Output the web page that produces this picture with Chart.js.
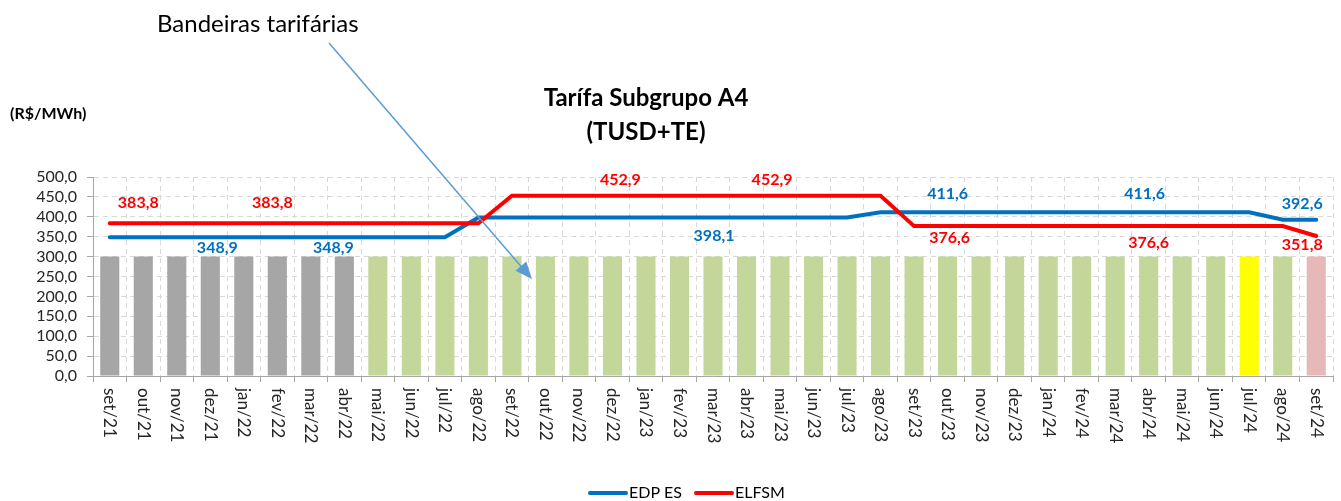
<!DOCTYPE html>
<html lang="pt-BR">
<head>
<meta charset="utf-8">
<title>Tarífa Subgrupo A4 (TUSD+TE)</title>
<script src="https://cdn.jsdelivr.net/npm/chart.js@4.4.1/dist/chart.umd.min.js"></script>
<style>
  html, body { margin: 0; padding: 0; background: #ffffff; }
  #wrap { position: relative; width: 1341px; height: 501px; }
</style>
</head>
<body>
<div id="wrap"><canvas id="chart"></canvas></div>
<script>
// Meses (set/21 a set/24)
const meses = [
  'set/21', 'out/21', 'nov/21', 'dez/21', 'jan/22', 'fev/22', 'mar/22', 'abr/22',
  'mai/22', 'jun/22', 'jul/22', 'ago/22', 'set/22', 'out/22', 'nov/22', 'dez/22',
  'jan/23', 'fev/23', 'mar/23', 'abr/23', 'mai/23', 'jun/23', 'jul/23', 'ago/23',
  'set/23', 'out/23', 'nov/23', 'dez/23', 'jan/24', 'fev/24', 'mar/24', 'abr/24',
  'mai/24', 'jun/24', 'jul/24', 'ago/24', 'set/24'
];

// Tarifa A4 (TUSD+TE) em R$/MWh
const edpEs = [
  348.9, 348.9, 348.9, 348.9, 348.9, 348.9, 348.9, 348.9,
  348.9, 348.9, 348.9, 398.1, 398.1, 398.1, 398.1, 398.1,
  398.1, 398.1, 398.1, 398.1, 398.1, 398.1, 398.1, 411.6,
  411.6, 411.6, 411.6, 411.6, 411.6, 411.6, 411.6, 411.6,
  411.6, 411.6, 411.6, 392.6, 392.6
];
const elfsm = [
  383.8, 383.8, 383.8, 383.8, 383.8, 383.8, 383.8, 383.8,
  383.8, 383.8, 383.8, 383.8, 452.9, 452.9, 452.9, 452.9,
  452.9, 452.9, 452.9, 452.9, 452.9, 452.9, 452.9, 452.9,
  376.6, 376.6, 376.6, 376.6, 376.6, 376.6, 376.6, 376.6,
  376.6, 376.6, 376.6, 376.6, 351.8
];

// Bandeira tarifária vigente em cada mês (barras de fundo)
const bandeiras = [
  'escassez', 'escassez', 'escassez', 'escassez', 'escassez', 'escassez', 'escassez', 'escassez',
  'verde', 'verde', 'verde', 'verde', 'verde', 'verde', 'verde', 'verde',
  'verde', 'verde', 'verde', 'verde', 'verde', 'verde', 'verde', 'verde',
  'verde', 'verde', 'verde', 'verde', 'verde', 'verde', 'verde', 'verde',
  'verde', 'verde', 'amarela', 'verde', 'vermelha2'
];
const barras = [
  300, 300, 300, 300, 300, 300, 300, 300, 300, 300, 300, 300, 300,
  300, 300, 300, 300, 300, 300, 300, 300, 300, 300, 300, 300,
  300, 300, 300, 300, 300, 300, 300, 300, 300, 300, 300, 300
];

const corBandeira = {
  escassez: '#a6a6a6',
  verde: '#c4d79b',
  amarela: '#ffff00',
  vermelha2: '#e6b8b7'
};

const AZUL = '#0070c0';
const VERMELHO = '#ff0000';
const FONTE = 'Lato, "Noto Sans", sans-serif';

// rótulos de valor: série, índice do mês e deslocamento em px
const rotulos = [
  { serie: 0, i: 1,  dx: -5,  dy: -20 },
  { serie: 0, i: 5,  dx: -5,  dy: -20 },
  { serie: 0, i: 15, dx: 8,   dy: -16 },
  { serie: 0, i: 20, dx: -8,  dy: -16 },
  { serie: 0, i: 25, dx: 2,   dy: 12 },
  { serie: 0, i: 31, dx: 0,   dy: 17 },
  { serie: 0, i: 36, dx: -14, dy: 9 },
  { serie: 1, i: 3,  dx: 7,   dy: 11 },
  { serie: 1, i: 7,  dx: -11, dy: 11 },
  { serie: 1, i: 18, dx: 1,   dy: 18 },
  { serie: 1, i: 25, dx: 0,   dy: -18 },
  { serie: 1, i: 31, dx: -4,  dy: -18 },
  { serie: 1, i: 36, dx: -14, dy: -16 }
];

const fmt = v => v.toFixed(1).replace('.', ',');

const extras = {
  id: 'extras',
  afterDatasetsDraw(chart) {
    const { ctx } = chart;
    ctx.save();
    ctx.font = 'bold 16px ' + FONTE;
    ctx.textAlign = 'center';
    ctx.textBaseline = 'middle';
    rotulos.forEach(r => {
      const ds = chart.data.datasets[r.serie];
      const pt = chart.getDatasetMeta(r.serie).data[r.i];
      ctx.fillStyle = ds.borderColor;
      ctx.fillText(fmt(ds.data[r.i]), pt.x + r.dx, pt.y + r.dy);
    });
    ctx.restore();
  },
  afterDraw(chart) {
    const { ctx, chartArea, scales: { x } } = chart;
    ctx.save();

    // meses na vertical, lidos de cima para baixo
    ctx.font = '17px ' + FONTE;
    ctx.fillStyle = '#262626';
    ctx.textAlign = 'left';
    ctx.textBaseline = 'middle';
    meses.forEach((m, i) => {
      ctx.save();
      ctx.translate(x.getPixelForValue(i), chartArea.bottom + 12);
      ctx.rotate(Math.PI / 2);
      ctx.fillText(m, 0, 0);
      ctx.restore();
    });

    // título
    ctx.fillStyle = '#000000';
    ctx.textAlign = 'center';
    ctx.font = 'bold 24px ' + FONTE;
    ctx.fillText('Tarífa Subgrupo A4', 646, 98);
    ctx.fillText('(TUSD+TE)', 646, 132);

    // unidade
    ctx.textAlign = 'left';
    ctx.font = 'bold 16px ' + FONTE;
    ctx.fillText('(R$/MWh)', 10, 114);

    // nota com seta
    ctx.font = '24px ' + FONTE;
    ctx.fillText('Bandeiras tarifárias', 157, 24);
    const x0 = 329, y0 = 43, x1 = 532, y1 = 279;
    const ang = Math.atan2(y1 - y0, x1 - x0);
    ctx.strokeStyle = '#5b9bd5';
    ctx.fillStyle = '#5b9bd5';
    ctx.lineWidth = 1.5;
    ctx.beginPath();
    ctx.moveTo(x0, y0);
    ctx.lineTo(x1 - 12 * Math.cos(ang), y1 - 12 * Math.sin(ang));
    ctx.stroke();
    ctx.beginPath();
    ctx.moveTo(x1, y1);
    ctx.lineTo(x1 - 17 * Math.cos(ang) + 7 * Math.sin(ang), y1 - 17 * Math.sin(ang) - 7 * Math.cos(ang));
    ctx.lineTo(x1 - 17 * Math.cos(ang) - 7 * Math.sin(ang), y1 - 17 * Math.sin(ang) + 7 * Math.cos(ang));
    ctx.closePath();
    ctx.fill();

    // legenda
    const itens = [
      { nome: 'EDP ES', cor: AZUL, x: 590 },
      { nome: 'ELFSM', cor: VERMELHO, x: 696 }
    ];
    ctx.font = '16px ' + FONTE;
    ctx.textBaseline = 'middle';
    ctx.lineWidth = 4;
    ctx.lineCap = 'round';
    itens.forEach(it => {
      ctx.strokeStyle = it.cor;
      ctx.beginPath();
      ctx.moveTo(it.x, 493);
      ctx.lineTo(it.x + 36, 493);
      ctx.stroke();
      ctx.fillStyle = '#000000';
      ctx.fillText(it.nome, it.x + 39, 493);
    });

    ctx.restore();
  }
};

const ctx = document.getElementById('chart');

new Chart(ctx, {
  type: 'bar',
  data: {
    labels: meses,
    datasets: [
      {
        type: 'line',
        label: 'ELFSM',
        data: elfsm,
        borderColor: VERMELHO,
        backgroundColor: VERMELHO,
        borderWidth: 4,
        borderCapStyle: 'round',
        pointRadius: 0,
        tension: 0,
        order: 1
      },
      {
        type: 'line',
        label: 'EDP ES',
        data: edpEs,
        borderColor: AZUL,
        backgroundColor: AZUL,
        borderWidth: 4,
        borderCapStyle: 'round',
        pointRadius: 0,
        tension: 0,
        order: 2
      },
      {
        label: 'Bandeiras tarifárias',
        data: barras,
        backgroundColor: bandeiras.map(b => corBandeira[b]),
        barPercentage: 0.57,
        categoryPercentage: 1,
        order: 3
      }
    ]
  },
  options: {
    responsive: true,
    maintainAspectRatio: false,
    animation: false,
    layout: { padding: { top: 177, right: 8, bottom: 0, left: 0 } },
    plugins: {
      legend: { display: false },
      tooltip: { enabled: false }
    },
    scales: {
      x: {
        ticks: { display: false },
        grid: {
          offset: true,
          color: '#d9d9d9',
          tickColor: '#a6a6a6',
          tickLength: 6,
          tickBorderDash: []
        },
        border: { color: '#a6a6a6', dash: [5, 4] },
        afterFit: scale => { scale.height = 125; }
      },
      y: {
        min: 0,
        max: 500,
        ticks: {
          stepSize: 50,
          autoSkip: false,
          padding: 10,
          color: '#262626',
          font: { family: FONTE, size: 16 },
          callback: v => fmt(v)
        },
        grid: {
          color: '#d9d9d9',
          tickColor: '#a6a6a6',
          tickLength: 6,
          tickBorderDash: []
        },
        border: { color: '#a6a6a6', dash: [5, 4] },
        afterFit: scale => { scale.width = 93; }
      }
    }
  },
  plugins: [extras]
});
</script>
</body>
</html>
